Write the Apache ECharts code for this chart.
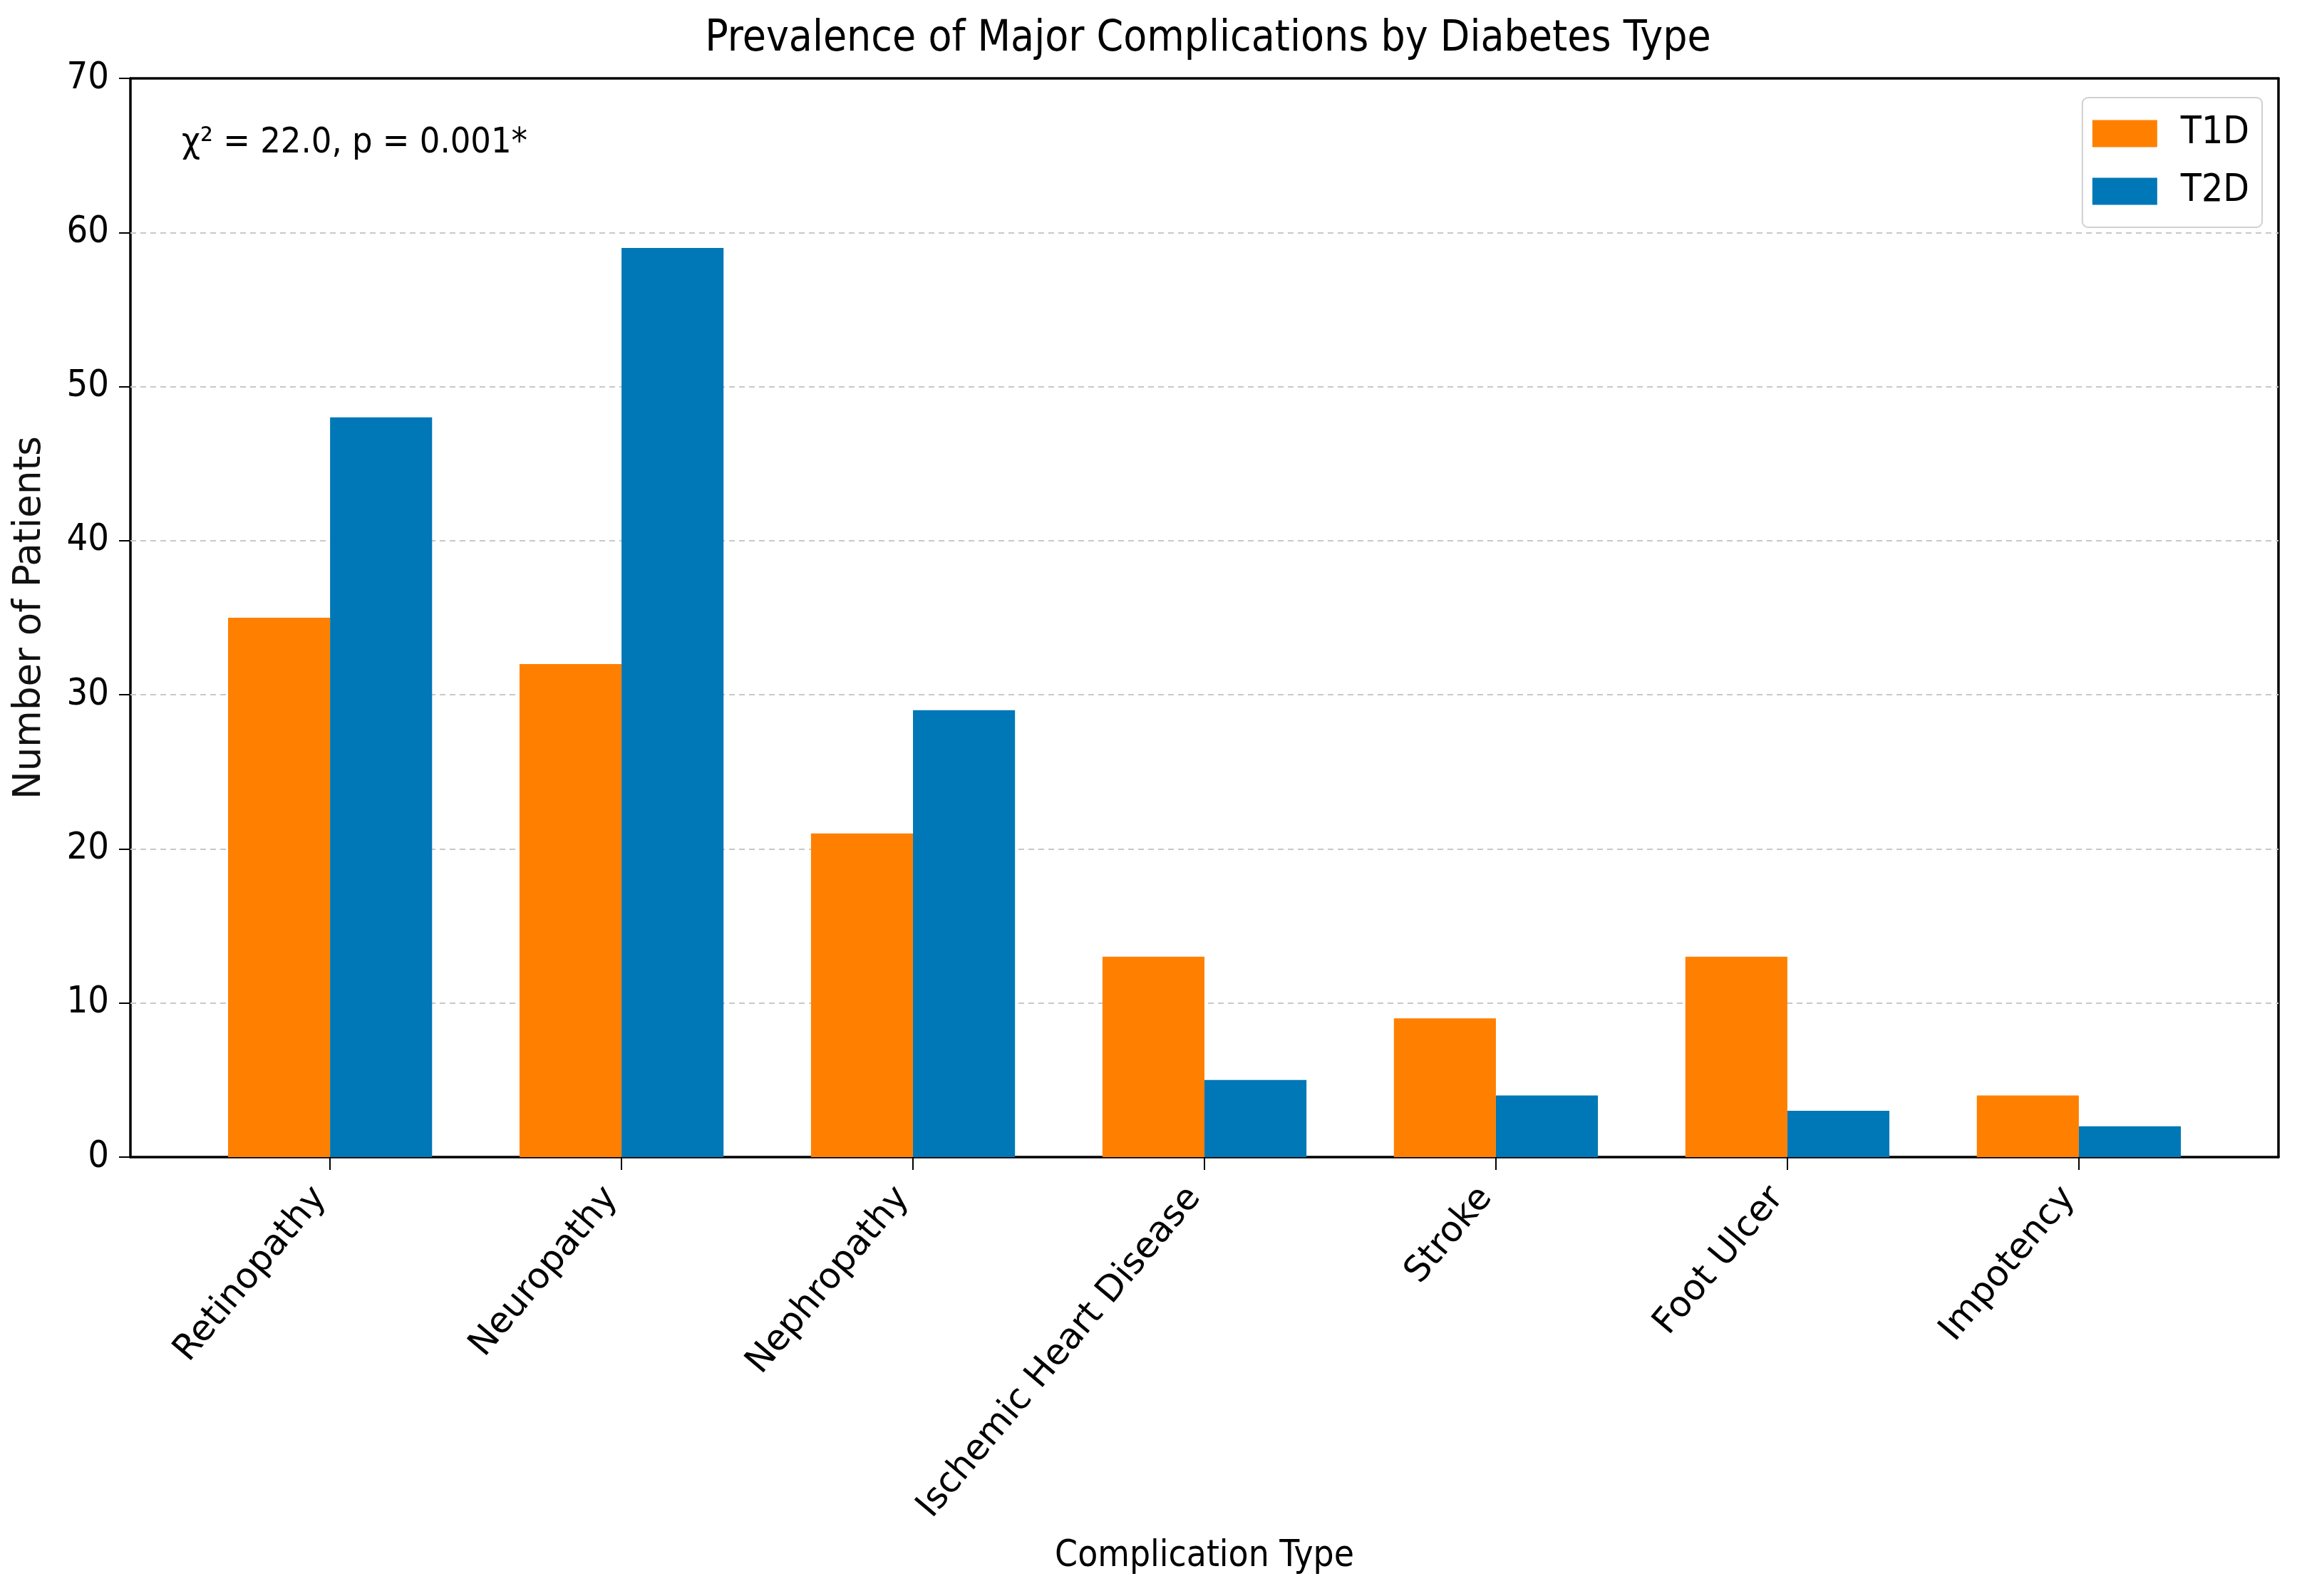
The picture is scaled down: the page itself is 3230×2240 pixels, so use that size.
<!DOCTYPE html>
<html>
<head>
<meta charset="utf-8">
<script src="https://cdn.jsdelivr.net/npm/echarts@6/dist/echarts.min.js"></script>
<style>html,body{margin:0;padding:0;background:#fff;}#chart{width:3230px;height:2240px;}</style>
</head>
<body>
<div id="chart"></div>
<script>
const categories = ['Retinopathy', 'Neuropathy', 'Nephropathy', 'Ischemic Heart Disease', 'Stroke', 'Foot Ulcer', 'Impotency'];
const t1d = [35, 32, 21, 13, 9, 13, 4];
const t2d = [48, 59, 29, 5, 4, 3, 2];
const yTicks = [0, 10, 20, 30, 40, 50, 60, 70];
const gridTicks = [10, 20, 30, 40, 50, 60];
const seriesNames = ['T1D', 'T2D'];
const colors = ['#ff8000', '#0077b6'];

const COND = '"DejaVu Sans Condensed", "DejaVu Sans", sans-serif';
const NORM = '"DejaVu Sans", sans-serif';
const catIdx = categories.map((c, i) => i);
const frameLine = {show: true, onZero: false, lineStyle: {color: '#000', width: 3.5}};

const chart = echarts.init(document.getElementById('chart'), null, {renderer: 'canvas'});
chart.setOption({
  backgroundColor: '#fff',
  animation: false,
  title: {
    text: 'Prevalence of Major Complications by Diabetes Type',
    left: 1690, top: 20, textAlign: 'center',
    textStyle: {fontFamily: COND, fontSize: 60, fontWeight: 'normal', color: '#000'}
  },
  legend: {
    orient: 'vertical', right: 56, top: 137,
    itemWidth: 91, itemHeight: 38, itemGap: 28,
    padding: [24, 18, 24, 14],
    borderColor: '#d0d0d0', borderWidth: 2, borderRadius: 8,
    backgroundColor: '#fff',
    icon: 'rect',
    textStyle: {fontFamily: COND, fontSize: 53, color: '#000', padding: [0, 0, 0, 28]},
    data: seriesNames
  },
  grid: {
    left: 183, right: 33, top: 110, bottom: 616,
    outerBoundsMode: 'none', containLabel: false,
    show: false
  },
  xAxis: [{
    type: 'value', min: -0.685, max: 6.685,
    name: 'Complication Type', nameLocation: 'middle', nameGap: 535,
    nameTextStyle: {fontFamily: COND, fontSize: 51, color: '#000'},
    axisLine: frameLine,
    axisTick: {show: true, customValues: catIdx, length: 18, lineStyle: {color: '#000', width: 2}},
    axisLabel: {
      customValues: catIdx, rotate: 50, margin: 32,
      fontFamily: NORM, fontSize: 50, color: '#000',
      padding: [0, 22, 0, 0],
      formatter: v => categories[Math.round(v)]
    },
    splitLine: {show: false}
  }, {
    type: 'value', position: 'top', min: -0.685, max: 6.685,
    axisLine: frameLine, axisTick: {show: false}, axisLabel: {show: false}, splitLine: {show: false}
  }],
  yAxis: [{
    type: 'value', min: 0, max: 70, interval: 10,
    name: 'Number of Patients', nameLocation: 'middle', nameGap: 114,
    nameTextStyle: {fontFamily: NORM, fontSize: 53, color: '#111'},
    axisLine: frameLine,
    axisTick: {show: true, length: 16, lineStyle: {color: '#000', width: 2}},
    axisLabel: {
      margin: 30, fontFamily: COND, fontSize: 52, color: '#000',
      customValues: yTicks
    },
    splitLine: {show: false}
  }, {
    type: 'value', position: 'right', min: 0, max: 70, interval: 10,
    axisLine: frameLine, axisTick: {show: false}, axisLabel: {show: false},
    splitLine: {show: false}
  }],
  series: [
    {
      name: seriesNames[0], type: 'bar', barWidth: '35%', barGap: '0%',
      itemStyle: {color: colors[0]},
      data: t1d.map((v, i) => [i, v]),
      markLine: {
        silent: true, symbol: 'none', label: {show: false}, z: 1,
        lineStyle: {color: '#c8c8c8', width: 2, type: [8, 6]},
        data: gridTicks.map(v => ({yAxis: v}))
      }
    },
    {
      name: seriesNames[1], type: 'bar', barWidth: '35%', barGap: '0%',
      itemStyle: {color: colors[1]},
      data: t2d.map((v, i) => [i, v])
    }
  ],
  graphic: [{
    type: 'text', left: 255, top: 176,
    style: {text: 'χ² = 22.0, p = 0.001*', font: '50px ' + COND, fill: '#000'}
  }]
});
</script>
</body>
</html>
